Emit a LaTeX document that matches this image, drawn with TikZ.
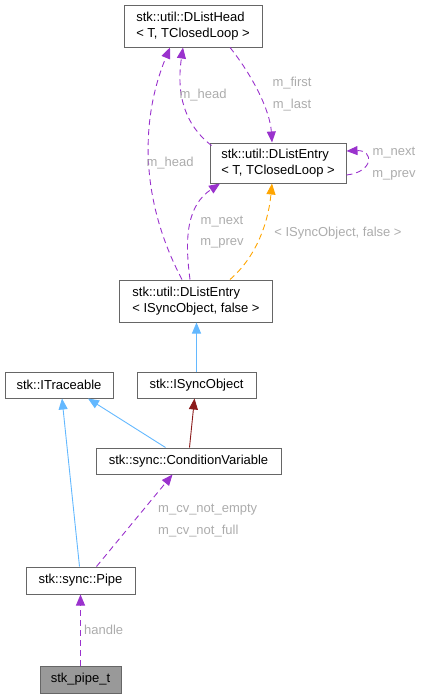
\documentclass[tikz,border=0pt]{standalone}
\usepackage{fontspec}
\setmainfont{Liberation Sans}
\usepackage{tikz}
\usetikzlibrary{arrows.meta, calc}
\definecolor{clrUse} {RGB}{154, 50,205}
\definecolor{clrInh} {RGB}{ 99,184,255}
\definecolor{clrPriv}{RGB}{139, 26, 26}
\definecolor{clrTpl} {RGB}{255,165,  0}
\definecolor{clrLbl} {RGB}{172,172,172}
\definecolor{clrBdr} {RGB}{102,102,102}
\tikzset{
  clsnode/.style={rectangle, draw=clrBdr, fill=white, line width=1pt,
    font=\fontsize{13}{16}\selectfont, align=left, inner xsep=4pt, inner ysep=2pt},
  curnode/.style={clsnode, fill=gray!80, draw=gray!80!black},
  usearr/.style={-{Triangle[length=11pt,width=9pt]}, clrUse, line width=0.9pt, dash pattern=on 6pt off 4pt},
  tplarr/.style={-{Triangle[length=11pt,width=9pt]}, clrTpl, line width=0.9pt, dash pattern=on 6pt off 4pt},
  inharr/.style={-{Triangle[length=11pt,width=9pt]}, clrInh, line width=0.9pt},
  privarr/.style={-{Triangle[length=11pt,width=9pt]}, clrPriv, line width=0.9pt},
  edgelbl/.style={font=\fontsize{13}{16}\selectfont, text=clrLbl, inner sep=1pt},
}
\begin{document}
\begin{tikzpicture}[x=1pt,y=-1pt]
\useasboundingbox (0,0) rectangle (426,699);
% classes
\node[clsnode, minimum width=138pt, minimum height=42pt] (head) at (193,26)
 {stk::util::DListHead\\< T, TClosedLoop >};
\node[clsnode, minimum width=136pt, minimum height=40pt] (entT) at (278,163)
 {stk::util::DListEntry\\< T, TClosedLoop >};
\node[clsnode, minimum width=153pt, minimum height=42pt] (entI) at (196,301)
 {stk::util::DListEntry\\< ISyncObject, false >};
\node[clsnode, minimum width=108pt, minimum height=26pt] (trace) at (59,385) {stk::ITraceable};
\node[clsnode, minimum width=119pt, minimum height=26pt] (isync) at (196.5,385) {stk::ISyncObject};
\node[clsnode, minimum width=185pt, minimum height=26pt] (cv) at (188.5,461) {stk::sync::ConditionVariable};
\node[clsnode, minimum width=109pt, minimum height=27pt] (pipe) at (80.5,580.5) {stk::sync::Pipe};
\node[curnode, minimum width=81pt, minimum height=27pt] (pipet) at (80.5,679.5) {stk\_pipe\_t};
% DListHead <-> DListEntry<T>
\draw[usearr] ([xshift=2pt,yshift=-3pt]entT.north west) .. controls (185,125) and (176,95) .. ([xshift=-10pt]head.south);
\node[edgelbl] (lhead1) at (203,95) {m\_head};
\draw[usearr] ([xshift=37pt]head.south) .. controls (252,75) and (270,110) .. ([xshift=-6pt]entT.north);
\node[edgelbl] (lfirst) at (292,83) {m\_first};
\node[edgelbl] (llast) at (292,105) {m\_last};
\draw[usearr] ([yshift=-12pt]entT.east) .. controls (374,172) and (374,150) .. ([yshift=12pt]entT.east);
\node[edgelbl] (lnext1) at (394,153) {m\_next};
\node[edgelbl] (lprev1) at (394,175) {m\_prev};
% DListEntry<ISyncObject,false>
\draw[usearr] ([xshift=-14pt]entI.north) .. controls (140,200) and (140,120) .. ([xshift=-23pt]head.south);
\node[edgelbl] (lhead2) at (170,163) {m\_head};
\draw[usearr] ([xshift=-6pt]entI.north) .. controls (184,235) and (188,205) .. ([xshift=-58pt]entT.south);
\node[edgelbl] (lnext2) at (222,222) {m\_next};
\node[edgelbl] (lprev2) at (222,243) {m\_prev};
\draw[tplarr] ([xshift=34pt]entI.north) .. controls (255,258) and (268,225) .. ([xshift=-6pt]entT.south);
\node[edgelbl] (ltpl) at (338,233) {< ISyncObject, false >};
% inheritance
\draw[inharr] (isync.north) -- (isync.north |- entI.south);
\draw[inharr] ([xshift=-23pt]cv.north) -- ([xshift=29pt]trace.south);
\draw[privarr] ([xshift=1pt]cv.north) -- ([xshift=-2pt]isync.south);
\draw[inharr] ([xshift=-1pt]pipe.north) -- ([xshift=3pt]trace.south);
% members
\draw[usearr] ([xshift=16pt]pipe.north) -- ([xshift=-16pt]cv.south);
\node[edgelbl, anchor=west] (lcv1) at (157,510) {m\_cv\_not\_empty};
\node[edgelbl, anchor=west] (lcv2) at (157,531) {m\_cv\_not\_full};
\draw[usearr] (pipet.north) -- (pipe.south);
\node[edgelbl, anchor=west] (lhandle) at (83,630) {handle};
\end{tikzpicture}
\end{document}
